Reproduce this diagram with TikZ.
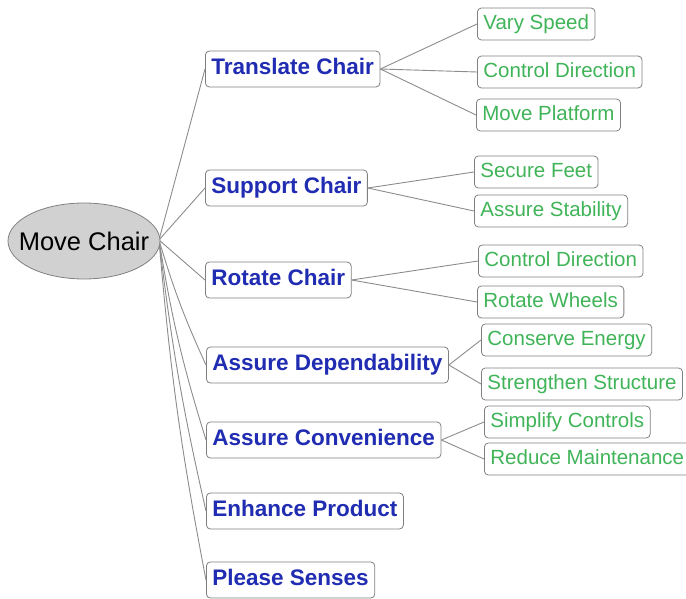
\documentclass[tikz,border=0pt]{standalone}
\usepackage{fontspec}
\setmainfont{Liberation Sans}
\usetikzlibrary{shapes.geometric}
\begin{document}
\begin{tikzpicture}[x=1pt,y=-1pt,
  link/.style={draw=black!45, line width=0.9pt},
  rootnode/.style={ellipse, draw=black!50, fill=black!18, line width=0.8pt,
    minimum width=152pt, minimum height=76pt, inner sep=0pt},
  roottext/.style={font=\fontsize{25.5}{28}\selectfont, text=black},
  funcbox/.style={draw=black!50, fill=white, rounded corners=4pt, line width=0.8pt,
    anchor=west, inner xsep=6pt, inner ysep=0pt, minimum height=36pt,
    text height=16.5pt, text depth=5pt,
    font=\fontsize{22.5}{26}\selectfont\bfseries, text={rgb,255:red,32;green,44;blue,178}},
  subbox/.style={draw=black!50, fill=white, rounded corners=4pt, line width=0.8pt,
    anchor=west, inner xsep=6pt, inner ysep=0pt, minimum height=32pt,
    text height=15pt, text depth=4.5pt,
    font=\fontsize{20.5}{24}\selectfont, text={rgb,255:red,64;green,180;blue,88}}]
\useasboundingbox (0,0) rectangle (686,599);

\coordinate (hub) at (159,240);

% first level
\node[funcbox] (tc) at (205,69)  {Translate Chair};
\node[funcbox] (sc) at (205,188) {Support Chair};
\node[funcbox] (rc) at (205,280) {Rotate Chair};
\node[funcbox] (ad) at (206,365) {Assure Dependability};
\node[funcbox] (ac) at (206,440) {Assure Convenience};
\node[funcbox] (ep) at (206,511) {Enhance Product};
\node[funcbox] (ps) at (206,580) {Please Senses};

% second level
\node[subbox] (vs)  at (477,24)  {Vary Speed};
\node[subbox] (cd1) at (477,72)  {Control Direction};
\node[subbox] (mp)  at (476,115) {Move Platform};
\node[subbox] (sf)  at (474,172) {Secure Feet};
\node[subbox] (as)  at (474,211) {Assure Stability};
\node[subbox] (cd2) at (478,261) {Control Direction};
\node[subbox] (rw)  at (477,302) {Rotate Wheels};
\node[subbox] (ce)  at (481,340) {Conserve Energy};
\node[subbox] (ss)  at (481,384) {Strengthen Structure};
\node[subbox] (sic) at (484,422) {Simplify Controls};
\node[subbox] (rm)  at (484,459) {Reduce Maintenance};

% connectors from the root (the root is placed over their start)
\draw[link] (hub) -- (tc.west);
\draw[link] (hub) -- (sc.west);
\draw[link] (hub) -- (rc.west);
\draw[link] (hub) to[bend right=4] (ad.west);
\draw[link] (hub) to[bend right=4] (ac.west);
\draw[link] (hub) to[bend right=3] (ep.west);
\draw[link] (hub) to[bend right=3] (ps.west);

% connectors to the sub-functions
\foreach \p/\c in {tc/vs, tc/cd1, tc/mp, sc/sf, sc/as, rc/cd2, rc/rw,
                   ad/ce, ad/ss, ac/sic, ac/rm}
  \draw[link] (\p.east) -- (\c.west);

% root
\node[rootnode, label={[roottext]center:Move Chair}] (mc) at (84,241) {};
\end{tikzpicture}
\end{document}
